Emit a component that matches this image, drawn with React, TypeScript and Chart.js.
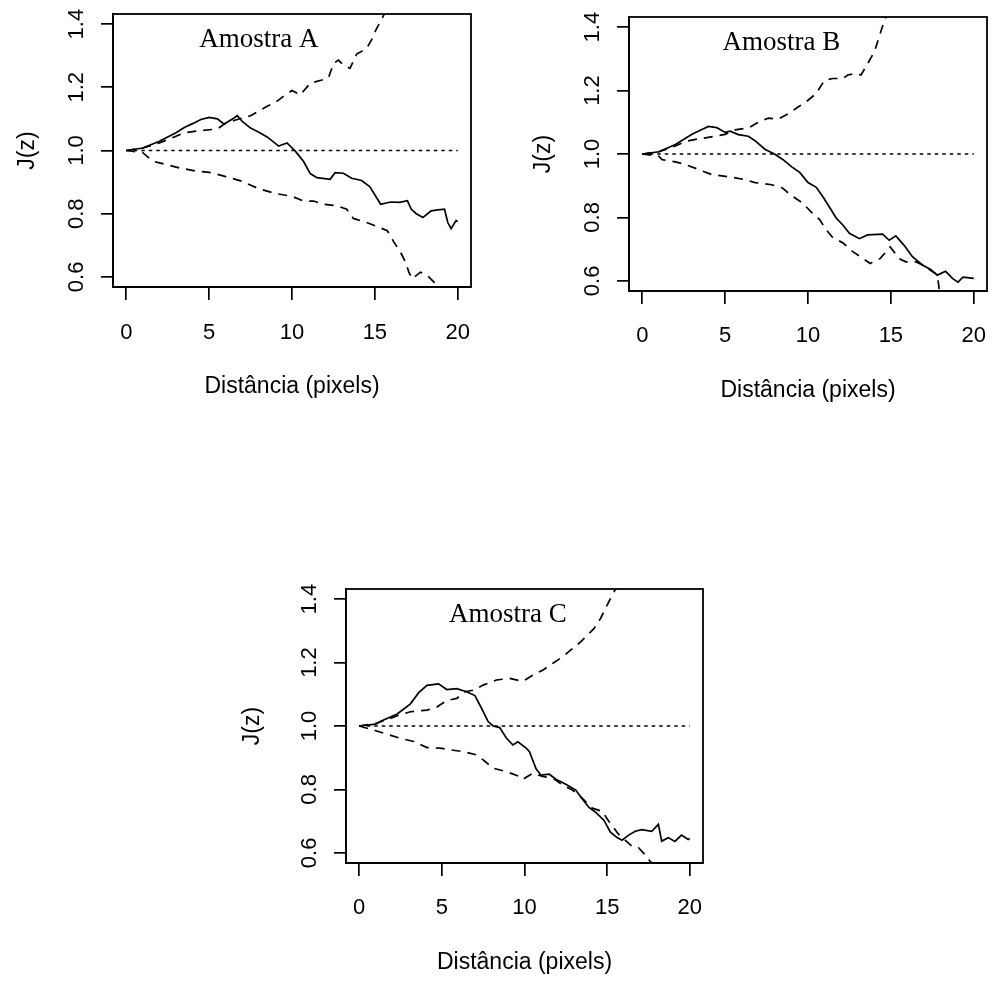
import React, { useEffect, useRef } from "react";
import { Chart, registerables } from "chart.js";

Chart.register(...registerables);

// ---------- data ----------
const xTicks = [0, 5, 10, 15, 20];
const yTicks = [0.6, 0.8, 1.0, 1.2, 1.4];
const theoX = [0, 20];
const theoY = [1, 1];

// Amostra A
const aObsX = [0, 1, 2, 3, 3.5, 4, 4.5, 5, 5.5, 5.9, 6.5, 6.7, 7, 7.5, 8, 8.5, 9.2, 9.7, 10.2, 10.7, 11.1, 11.5, 12.3, 12.6, 13.1, 13.6, 14.2, 14.7, 15.35, 15.95, 16.5, 16.96, 17.2, 17.5, 17.9, 18.4, 18.8, 19.2, 19.4, 19.6, 19.9, 20];
const aObsY = [1.0, 1.008, 1.029, 1.056, 1.073, 1.085, 1.098, 1.105, 1.1, 1.083, 1.103, 1.11, 1.092, 1.071, 1.058, 1.043, 1.014, 1.024, 0.998, 0.965, 0.927, 0.914, 0.909, 0.93, 0.928, 0.912, 0.905, 0.885, 0.83, 0.837, 0.836, 0.841, 0.814, 0.8, 0.788, 0.809, 0.812, 0.814, 0.772, 0.753, 0.778, 0.775];
const aHiX = [0, 1, 2, 3, 3.5, 4.5, 5.5, 6, 6.5, 7, 7.5, 8, 8.5, 9, 9.5, 10, 10.5, 11.1, 11.8, 12.2, 12.5, 12.8, 13.1, 13.5, 13.9, 14.5, 14.8, 15.05, 15.45, 15.7, 16, 18, 20];
const aHiY = [1.0, 1.008, 1.024, 1.045, 1.056, 1.063, 1.068, 1.087, 1.095, 1.103, 1.11, 1.125, 1.14, 1.152, 1.172, 1.19, 1.176, 1.213, 1.223, 1.23, 1.275, 1.286, 1.27, 1.26, 1.305, 1.323, 1.35, 1.38, 1.42, 1.445, 1.48, 1.7, 1.95];
const aLoX = [0, 1, 1.6, 2, 3.2, 4.2, 5, 5.9, 6.9, 8, 9, 10, 10.7, 11.3, 11.9, 12.7, 13.3, 13.7, 14.5, 15.25, 15.75, 16.15, 16.55, 16.85, 17.05, 17.25, 17.75, 18.15, 18.55, 18.8, 19.5, 20];
const aLoY = [1.0, 0.993, 0.966, 0.961, 0.945, 0.935, 0.931, 0.919, 0.904, 0.879, 0.864, 0.855, 0.84, 0.84, 0.83, 0.825, 0.814, 0.785, 0.772, 0.757, 0.746, 0.71, 0.678, 0.647, 0.615, 0.594, 0.615, 0.605, 0.584, 0.568, 0.53, 0.5];

// Amostra B
const bObsX = [0, 1, 2, 3, 3.5, 4, 4.5, 5, 5.3, 5.8, 6.4, 6.8, 7.4, 8, 8.5, 9, 9.5, 10, 10.5, 10.9, 11.3, 11.7, 12.1, 12.5, 13.1, 13.6, 14.5, 14.9, 15.3, 15.8, 16.3, 16.9, 17.4, 17.8, 18.3, 18.75, 19.05, 19.35, 20];
const bObsY = [1.0, 1.007, 1.03, 1.062, 1.075, 1.087, 1.083, 1.068, 1.072, 1.061, 1.056, 1.042, 1.015, 0.999, 0.982, 0.96, 0.942, 0.91, 0.895, 0.865, 0.832, 0.798, 0.776, 0.75, 0.733, 0.745, 0.747, 0.728, 0.742, 0.712, 0.676, 0.65, 0.636, 0.618, 0.63, 0.606, 0.596, 0.612, 0.608];
const bHiX = [0, 1, 2, 2.6, 3.3, 4.3, 5, 5.6, 6.4, 7, 7.6, 8.2, 8.85, 9.45, 9.9, 10.5, 11, 11.5, 12.1, 12.4, 12.9, 13.2, 13.6, 14, 14.3, 14.6, 15, 16, 18, 20];
const bHiY = [1.0, 1.007, 1.025, 1.04, 1.047, 1.055, 1.062, 1.076, 1.082, 1.1, 1.113, 1.11, 1.128, 1.15, 1.165, 1.191, 1.233, 1.238, 1.238, 1.249, 1.254, 1.249, 1.285, 1.322, 1.37, 1.42, 1.47, 1.6, 1.8, 2.0];
const bLoX = [0, 1, 1.2, 2, 2.6, 3.4, 4.2, 5.4, 6.2, 6.8, 7.8, 8.45, 9.05, 9.66, 10.2, 10.7, 11.1, 11.5, 12.1, 12.7, 13.3, 13.75, 14.35, 14.96, 15.5, 15.9, 16.5, 17, 17.5, 17.8, 17.95, 19, 20];
const bLoY = [1.0, 0.993, 0.982, 0.975, 0.967, 0.951, 0.935, 0.927, 0.919, 0.91, 0.903, 0.893, 0.867, 0.846, 0.817, 0.793, 0.761, 0.736, 0.72, 0.692, 0.671, 0.655, 0.67, 0.707, 0.67, 0.66, 0.66, 0.648, 0.629, 0.62, 0.56, 0.5, 0.45];

// Amostra C
const cObsX = [0, 1, 1.3, 2.3, 3.1, 3.6, 4.1, 4.8, 5.3, 5.9, 6.5, 7, 7.4, 7.8, 8.1, 8.5, 8.9, 9.3, 9.6, 10.1, 10.3, 10.7, 11, 11.5, 11.9, 12.5, 13.1, 13.5, 13.9, 14.3, 14.8, 15.2, 15.6, 15.9, 16.3, 16.7, 17.1, 17.7, 18.1, 18.3, 18.7, 19.1, 19.5, 19.9, 20];
const cObsY = [1.0, 1.006, 1.015, 1.038, 1.07, 1.105, 1.128, 1.133, 1.115, 1.118, 1.108, 1.096, 1.056, 1.014, 1.0, 0.995, 0.962, 0.94, 0.95, 0.93, 0.919, 0.865, 0.845, 0.848, 0.832, 0.816, 0.798, 0.77, 0.743, 0.728, 0.703, 0.665, 0.648, 0.64, 0.656, 0.668, 0.673, 0.668, 0.69, 0.637, 0.648, 0.636, 0.656, 0.642, 0.645];
const cHiX = [0, 1, 2, 2.5, 3.1, 4.1, 4.7, 5.3, 5.9, 6.4, 6.9, 7.5, 8.3, 9.1, 9.9, 10.5, 11.1, 11.7, 12.3, 12.9, 13.4, 13.8, 14.2, 14.6, 15, 15.3, 15.6, 16, 18, 20];
const cHiY = [1.0, 1.008, 1.026, 1.036, 1.045, 1.05, 1.06, 1.08, 1.087, 1.108, 1.113, 1.129, 1.145, 1.15, 1.141, 1.16, 1.176, 1.197, 1.218, 1.244, 1.265, 1.286, 1.307, 1.339, 1.381, 1.412, 1.44, 1.48, 1.7, 1.95];
const cLoX = [0, 1, 2.5, 3.3, 4.1, 4.9, 5.5, 6.3, 7.1, 7.5, 8.1, 8.9, 9.7, 9.9, 10.5, 11.1, 11.7, 12.3, 12.9, 13.5, 14.1, 14.7, 15.1, 15.7, 16.5, 16.9, 17.3, 17.6, 18.5, 20];
const cLoY = [1.0, 0.985, 0.961, 0.951, 0.932, 0.93, 0.925, 0.919, 0.909, 0.893, 0.867, 0.856, 0.841, 0.832, 0.851, 0.841, 0.836, 0.814, 0.798, 0.772, 0.741, 0.731, 0.7, 0.658, 0.621, 0.616, 0.594, 0.573, 0.54, 0.48];

const sampleTitles = ["Amostra A", "Amostra B", "Amostra C"];
const titlePosX = [8, 8.4, 9];
const titlePosY = [1.35, 1.35, 1.35];
const xLabel = "Distância (pixels)";
const yLabel = "J(z)";

// ---------- helpers ----------
const zip = (xs: number[], ys: number[]) => xs.map((x, i) => ({ x, y: ys[i] }));
const SANS = '"Liberation Sans", Arial, sans-serif';
const SERIF = '"Liberation Serif", "Times New Roman", serif';

type PanelProps = {
  left: number; top: number; width: number; height: number;
  axisW: number; padTop: number; padRight: number; axisH: number;
  xTickPad: number; yTickPad: number; yTitlePad: number; xTitlePad: number;
  title: string; tx: number; ty: number;
  obsX: number[]; obsY: number[]; hiX: number[]; hiY: number[]; loX: number[]; loY: number[];
};

function Panel(p: PanelProps) {
  const ref = useRef<HTMLCanvasElement>(null);
  useEffect(() => {
    if (!ref.current) return;
    const labelPlugin = {
      id: "sampleLabel",
      afterDatasetsDraw(chart: any) {
        const { ctx, scales } = chart;
        ctx.save();
        ctx.font = `27px ${SERIF}`;
        ctx.fillStyle = "#000";
        ctx.textAlign = "center";
        ctx.textBaseline = "middle";
        ctx.fillText(p.title, scales.x.getPixelForValue(p.tx), scales.y.getPixelForValue(p.ty));
        ctx.restore();
      },
    };
    const framePlugin = {
      id: "frame",
      afterDraw(chart: any) {
        const { ctx, chartArea: a } = chart;
        ctx.save();
        ctx.strokeStyle = "#000";
        ctx.lineWidth = 1.8;
        ctx.setLineDash([]);
        ctx.strokeRect(a.left, a.top, a.right - a.left, a.bottom - a.top);
        ctx.restore();
      },
    };
    const line = (xs: number[], ys: number[], dash: number[]) => ({
      data: zip(xs, ys),
      borderColor: "#000",
      borderWidth: 1.7,
      borderDash: dash,
      pointRadius: 0,
      tension: 0,
      fill: false,
    });
    const resetPad = (s: any) => {
      s.paddingLeft = 0; s.paddingRight = 0; s.paddingTop = 0; s.paddingBottom = 0;
    };
    const chart = new Chart(ref.current, {
      type: "line",
      data: {
        datasets: [
          line(p.obsX, p.obsY, []),
          line(p.hiX, p.hiY, [9, 7]),
          line(p.loX, p.loY, [9, 7]),
          line(theoX, theoY, [3.5, 4]),
        ] as any,
      },
      options: {
        responsive: false,
        animation: false,
        devicePixelRatio: 1,
        events: [],
        layout: { padding: { top: p.padTop, right: p.padRight, left: 0, bottom: 0 } },
        plugins: { legend: { display: false }, tooltip: { enabled: false } },
        scales: {
          x: {
            type: "linear",
            min: -0.8,
            max: 20.8,
            afterBuildTicks: (s: any) => { s.ticks = xTicks.map((v) => ({ value: v })); },
            afterFit: (s: any) => { s.height = p.axisH; resetPad(s); },
            ticks: {
              autoSkip: false, maxRotation: 0, minRotation: 0,
              color: "#000", padding: p.xTickPad,
              font: { family: SANS, size: 22 },
              callback: (v: any) => String(v),
            },
            grid: { drawOnChartArea: false, drawTicks: true, tickLength: 13, color: "#000", lineWidth: 1.7 },
            border: { display: true, color: "#000", width: 1.8 },
            title: {
              display: true, text: xLabel, color: "#000",
              font: { family: SANS, size: 23 },
              padding: { top: 0, bottom: p.xTitlePad },
            },
          },
          y: {
            type: "linear",
            min: 0.568,
            max: 1.432,
            afterBuildTicks: (s: any) => { s.ticks = yTicks.map((v) => ({ value: v })); },
            afterFit: (s: any) => { s.width = p.axisW; resetPad(s); },
            ticks: {
              autoSkip: false, minRotation: 90, maxRotation: 90,
              crossAlign: "center",
              color: "#000", padding: p.yTickPad,
              font: { family: SANS, size: 22 },
              callback: (v: any) => Number(v).toFixed(1),
            },
            grid: { drawOnChartArea: false, drawTicks: true, tickLength: 12, color: "#000", lineWidth: 1.7 },
            border: { display: true, color: "#000", width: 1.8 },
            title: {
              display: true, text: yLabel, color: "#000",
              font: { family: SANS, size: 23 },
              padding: { top: p.yTitlePad, bottom: 0 },
            },
          },
        },
      } as any,
      plugins: [labelPlugin, framePlugin],
    });
    return () => chart.destroy();
  }, []);
  return (
    <canvas
      ref={ref}
      width={p.width}
      height={p.height}
      style={{ position: "absolute", left: p.left, top: p.top, width: p.width, height: p.height }}
    />
  );
}

export default function App() {
  return (
    <div style={{ position: "absolute", left: 0, top: 0, width: 992, height: 981, background: "#fff", overflow: "hidden" }}>
      <Panel left={0} top={0} width={496} height={430} axisW={113} padTop={14} padRight={25} axisH={143}
        xTickPad={20} yTickPad={9} yTitlePad={13.7} xTitlePad={30}
        title={sampleTitles[0]} tx={titlePosX[0]} ty={titlePosY[0]}
        obsX={aObsX} obsY={aObsY} hiX={aHiX} hiY={aHiY} loX={aLoX} loY={aLoY} />
      <Panel left={496} top={0} width={496} height={430} axisW={133} padTop={17} padRight={5} axisH={139}
        xTickPad={19} yTickPad={9} yTitlePad={34.2} xTitlePad={26}
        title={sampleTitles[1]} tx={titlePosX[1]} ty={titlePosY[1]}
        obsX={bObsX} obsY={bObsY} hiX={bHiX} hiY={bHiY} loX={bLoX} loY={bLoY} />
      <Panel left={230} top={570} width={520} height={411} axisW={116} padTop={19} padRight={47} axisH={118}
        xTickPad={19} yTickPad={9} yTitlePad={9.2} xTitlePad={5}
        title={sampleTitles[2]} tx={titlePosX[2]} ty={titlePosY[2]}
        obsX={cObsX} obsY={cObsY} hiX={cHiX} hiY={cHiY} loX={cLoX} loY={cLoY} />
    </div>
  );
}
